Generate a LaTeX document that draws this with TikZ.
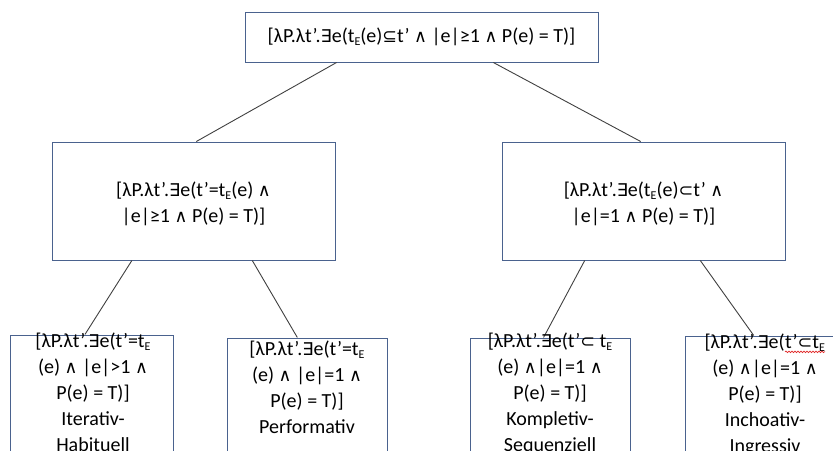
\documentclass[tikz,border=0pt]{standalone}
\usepackage{fontspec}
\setmainfont{Carlito}
\newfontfamily\symf{DejaVu Sans}[Scale=0.88]
\usetikzlibrary{calc,decorations.pathmorphing}

\definecolor{boxline}{RGB}{74,98,142}
\definecolor{edgegray}{RGB}{64,64,64}
\definecolor{spell}{RGB}{225,40,40}

% logical symbols taken from DejaVu Sans
\newcommand\lEx{{\symf ∃}}
\newcommand\lSubeq{{\symf ⊆}}
\newcommand\lSubs{{\symf ⊂}}
\newcommand\lAnd{{\symf ∧}}
\newcommand\tE{t\raisebox{-0.3ex}{\fontsize{12}{12}\selectfont E}}

% red wavy spell-check underline
\newcommand\spellwave[1]{\tikz[baseline=(sw.base),x=1cm,y=1cm]{%
  \node[inner sep=0pt,anchor=base] (sw) {#1};
  \draw[spell,line width=0.7pt,decorate,decoration={snake,amplitude=0.8pt,segment length=3pt}]
    ([yshift=-3pt]sw.base west) -- ([yshift=-3pt]sw.base east);}}

\begin{document}
\begin{tikzpicture}[x=1pt,y=-1pt,
  box/.style={draw=boxline, line width=1pt, fill=white, rectangle, inner sep=0pt},
  lbl/.style={align=center, font=\fontsize{20}{26}\selectfont, inner sep=0pt, text=black},
  edgeline/.style={draw=edgegray, line width=0.9pt}]
\useasboundingbox (0,0) rectangle (833,450);
\clip (0,0) rectangle (833,450);

% boxes
\node[box, minimum width=353pt, minimum height=50pt]  (top)  at (421.5,37) {};
\node[box, minimum width=283pt, minimum height=118pt] (midL) at (193.5,201) {};
\node[box, minimum width=283pt, minimum height=118pt] (midR) at (643.5,201) {};
\node[box, minimum width=163pt, minimum height=145pt] (b1) at (91.5,407.5) {};
\node[box, minimum width=160pt, minimum height=142pt] (b2) at (307,409) {};
\node[box, minimum width=160pt, minimum height=142pt] (b3) at (550,409) {};
\node[box, minimum width=160pt, minimum height=144pt] (b4) at (765,408) {};

% connectors
\draw[edgeline] ($(top.south west)!0.26!(top.south east)$) -- ($(midL.north west)!0.51!(midL.north east)$);
\draw[edgeline] ($(top.south west)!0.703!(top.south east)$) -- ($(midR.north west)!0.49!(midR.north east)$);
\draw[edgeline] ($(midL.south west)!0.283!(midL.south east)$) -- ($(b1.north west)!0.46!(b1.north east)$);
\draw[edgeline] ($(midL.south west)!0.707!(midL.south east)$) -- ($(b2.north west)!0.44!(b2.north east)$);
\draw[edgeline] ($(midR.south west)!0.293!(midR.south east)$) -- ($(b3.north west)!0.46!(b3.north east)$);
\draw[edgeline] ($(midR.south west)!0.70!(midR.south east)$) -- ($(b4.north west)!0.43!(b4.north east)$);

% labels
\node[lbl] (ttop) at (421.5,37) {[λP.λt’.\lEx e(\tE(e)\lSubeq t’ \lAnd{} |e|≥1 \lAnd{} P(e) = T)]};
\node[lbl] (tmidL) at (193.5,204) {[λP.λt’.\lEx e(t’=\tE(e) \lAnd\\|e|≥1 \lAnd{} P(e) = T)]};
\node[lbl] (tmidR) at (643.5,204) {[λP.λt’.\lEx e(\tE(e)\lSubs t’ \lAnd\\|e|=1 \lAnd{} P(e) = T)]};
\node[lbl, anchor=north] (tb1) at (93,333) {[λP.λt’.\lEx e(t’=\tE\\(e) \lAnd{} |e|>1 \lAnd\\P(e) = T)]\\Iterativ-\\Habituell};
\node[lbl, anchor=north] (tb2) at (307,341) {[λP.λt’.\lEx e(t’=\tE\\(e) \lAnd{} |e|=1 \lAnd\\P(e) = T)]\\Performativ};
\node[lbl, anchor=north] (tb3) at (550,333) {[λP.λt’.\lEx e(t’\lSubs{} \tE\\(e) \lAnd|e|=1 \lAnd\\P(e) = T)]\\Kompletiv-\\Sequenziell};
\node[lbl, anchor=north] (tb4) at (765,334) {[λP.λt’.\lEx e(\spellwave{t’\lSubs\tE}\\(e) \lAnd|e|=1 \lAnd\\P(e) = T)]\\Inchoativ-\\Ingressiv};
\end{tikzpicture}
\end{document}
